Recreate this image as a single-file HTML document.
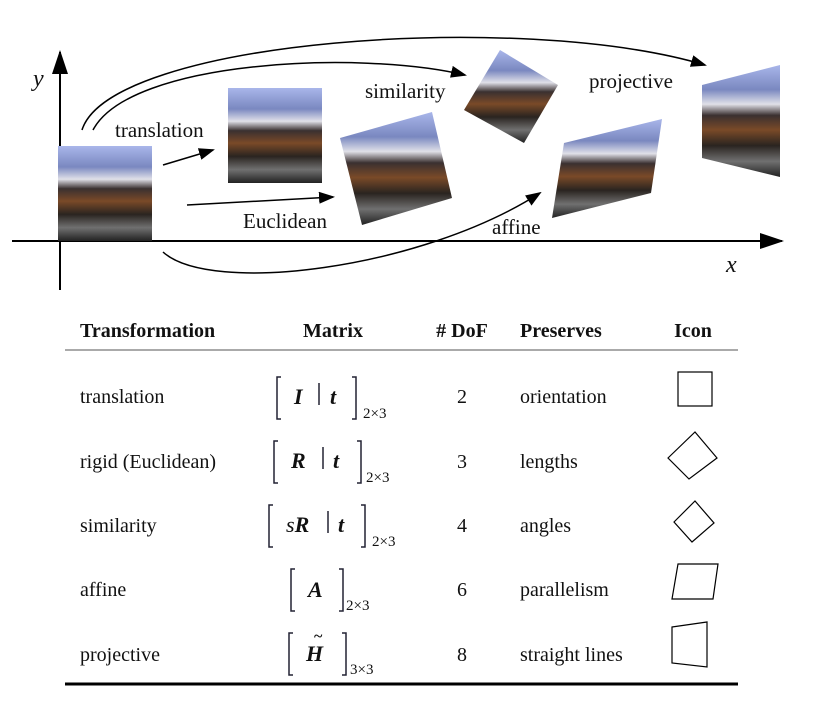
<!DOCTYPE html>
<html><head><meta charset="utf-8"><style>
html,body{margin:0;padding:0;background:#fff;}
svg{display:block;}
text{font-family:"Liberation Serif",serif;fill:#111;}
</style></head><body>
<svg width="828" height="728" viewBox="0 0 828 728" xmlns="http://www.w3.org/2000/svg">
<defs>
<linearGradient id="ph" x1="0" y1="0" x2="0" y2="1">
<stop offset="0" stop-color="#a9b6ea"/><stop offset="0.22" stop-color="#7a88c0"/>
<stop offset="0.35" stop-color="#e0e0e8"/><stop offset="0.45" stop-color="#3a3030"/>
<stop offset="0.58" stop-color="#7a4a28"/><stop offset="0.72" stop-color="#2a2420"/>
<stop offset="0.86" stop-color="#707070"/><stop offset="1" stop-color="#222"/>
</linearGradient>
<marker id="ah" markerWidth="16" markerHeight="12" refX="14" refY="6" orient="auto" markerUnits="userSpaceOnUse">
<path d="M0,0 L16,6 L0,12 z" fill="#000"/></marker>
<marker id="big" markerWidth="24" markerHeight="16" refX="22" refY="8" orient="auto" markerUnits="userSpaceOnUse">
<path d="M0,0 L24,8 L0,16 z" fill="#000"/></marker>
</defs>
<line x1="60" y1="290" x2="60" y2="52" stroke="#000" stroke-width="2" marker-end="url(#big)"/>
<line x1="12" y1="241" x2="782" y2="241" stroke="#000" stroke-width="2" marker-end="url(#big)"/>
<text x="33" y="86" font-size="24" font-style="italic">y</text>
<text x="726" y="272" font-size="24" font-style="italic">x</text>
<polygon points="58,146 152,146 152,241 58,241" fill="url(#ph)"/>
<polygon points="228,88 322,88 322,183 228,183" fill="url(#ph)"/>
<polygon points="340,138 432,112 452,198 362,225" fill="url(#ph)"/>
<polygon points="500,50 558,85 524,143 464,110" fill="url(#ph)"/>
<polygon points="564,143 662,119 651,193 552,218" fill="url(#ph)"/>
<polygon points="702,85 780,65 780,177 702,158" fill="url(#ph)"/>
<line x1="163" y1="165" x2="213" y2="150" stroke="#000" stroke-width="1.5" marker-end="url(#ah)"/>
<line x1="187" y1="205" x2="333" y2="197" stroke="#000" stroke-width="1.5" marker-end="url(#ah)"/>
<path d="M93,130 C130,60 360,50 465,75" fill="none" stroke="#000" stroke-width="1.5" marker-end="url(#ah)"/>
<path d="M82,130 C110,40 520,10 705,65" fill="none" stroke="#000" stroke-width="1.5" marker-end="url(#ah)"/>
<path d="M163,252 C210,295 420,270 540,193" fill="none" stroke="#000" stroke-width="1.5" marker-end="url(#ah)"/>
<text x="115" y="137" font-size="21">translation</text>
<text x="243" y="228" font-size="21">Euclidean</text>
<text x="365" y="98" font-size="21">similarity</text>
<text x="589" y="88" font-size="21">projective</text>
<text x="492" y="234" font-size="21">affine</text>
<g font-size="20" font-weight="bold">
<text x="80" y="337" font-weight="bold">Transformation</text>
<text x="333" y="337" text-anchor="middle" font-weight="bold">Matrix</text>
<text x="462" y="337" text-anchor="middle" font-weight="bold"># DoF</text>
<text x="520" y="337" font-weight="bold">Preserves</text>
<text x="693" y="337" text-anchor="middle" font-weight="bold">Icon</text>
</g>
<line x1="65" y1="350" x2="738" y2="350" stroke="#555" stroke-width="1"/>
<line x1="65" y1="684" x2="738" y2="684" stroke="#000" stroke-width="3"/>
<g font-size="20">
<text x="80" y="403">translation</text>
<text x="80" y="468">rigid (Euclidean)</text>
<text x="80" y="532">similarity</text>
<text x="80" y="596">affine</text>
<text x="80" y="661">projective</text>
<text x="462" y="403" text-anchor="middle">2</text>
<text x="462" y="468" text-anchor="middle">3</text>
<text x="462" y="532" text-anchor="middle">4</text>
<text x="462" y="596" text-anchor="middle">6</text>
<text x="462" y="661" text-anchor="middle">8</text>
<text x="520" y="403">orientation</text>
<text x="520" y="468">lengths</text>
<text x="520" y="532">angles</text>
<text x="520" y="596">parallelism</text>
<text x="520" y="661">straight lines</text>
</g>
<g fill="none" stroke="#223" stroke-width="1.5">
<path d="M281,377 h-4 v42 h4 M352,377 h4 v42 h-4"/>
<path d="M319,383 v22"/>
<path d="M278,441 h-4 v42 h4 M357,441 h4 v42 h-4"/>
<path d="M323,447 v22"/>
<path d="M273,505 h-4 v42 h4 M361,505 h4 v42 h-4"/>
<path d="M328,511 v22"/>
<path d="M295,569 h-4 v42 h4 M339,569 h4 v42 h-4"/>
<path d="M293,633 h-4 v42 h4 M342,633 h4 v42 h-4"/>
</g>
<g font-size="22" font-weight="bold" font-style="italic">
<text x="294" y="404">I</text><text x="330" y="404">t</text>
<text x="291" y="468">R</text><text x="333" y="468">t</text>
<text x="286" y="532"><tspan font-weight="normal">s</tspan>R</text><text x="338" y="532">t</text>
<text x="308" y="597">A</text>
<text x="306" y="661">H</text>
</g>
<text x="314" y="641" font-size="16" font-weight="bold">~</text>
<g font-size="15">
<text x="363" y="418">2×3</text>
<text x="366" y="482">2×3</text>
<text x="372" y="546">2×3</text>
<text x="346" y="610">2×3</text>
<text x="350" y="674">3×3</text>
</g>
<g fill="none" stroke="#000" stroke-width="1.2">
<rect x="678" y="372" width="34" height="34"/>
<polygon points="668,458 695,432 717,458 689,479"/>
<polygon points="674,522 695,501 714,523 692,542"/>
<polygon points="678,564 718,564 713,599 672,599"/>
<polygon points="672,627 707,622 707,667 672,663"/>
</g>
</svg>
</body></html>
